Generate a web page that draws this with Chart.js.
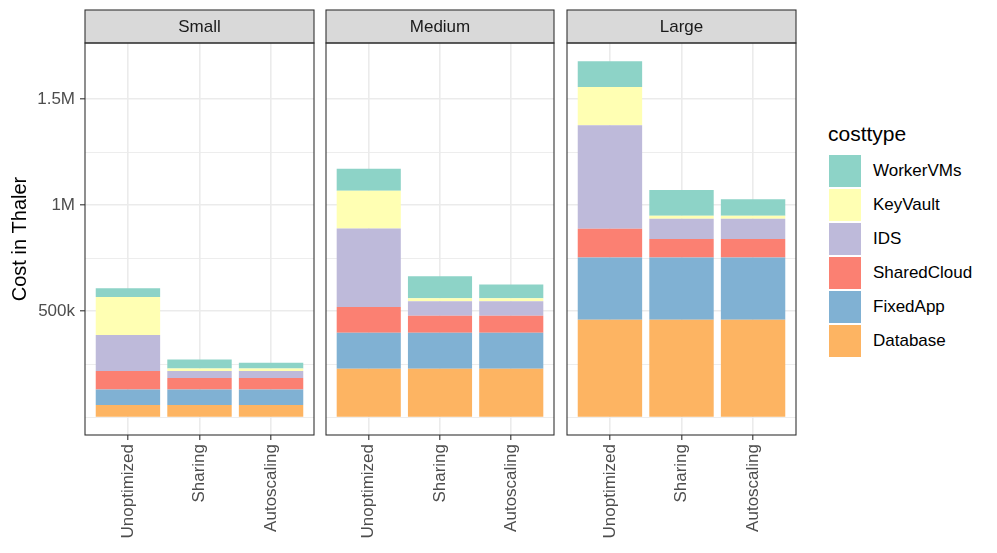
<!DOCTYPE html>
<html>
<head>
<meta charset="utf-8">
<script src="https://cdn.jsdelivr.net/npm/chart.js@4.4.1/dist/chart.umd.min.js"></script>
<style>
  body { margin: 0; background: #fff; font-family: "Liberation Sans", Arial, sans-serif; }
  #wrap { position: relative; width: 997px; height: 553px; overflow: hidden; }
  .panel { position: absolute; top: 0; height: 553px; }
  #legend { position: absolute; left: 828px; top: 123px; }
  .lg-title { font-size: 21px; line-height: 21px; color: #000; margin-bottom: 11px; }
  .lg-item { position: relative; height: 34px; }
  .lg-key { position: absolute; left: 1px; top: 0; width: 32px; height: 32px; }
  .lg-text { position: absolute; left: 45px; top: 0; line-height: 32px; font-size: 17px; color: #000; white-space: nowrap; }
</style>
</head>
<body>
<div id="wrap">
  <div class="panel" style="left:0px;width:315px"><canvas id="c0"></canvas></div>
  <div class="panel" style="left:324px;width:232px"><canvas id="c1"></canvas></div>
  <div class="panel" style="left:565px;width:233px"><canvas id="c2"></canvas></div>
  <div id="legend"></div>
</div>
<script>
"use strict";
{
  // facets and bars
  const sizes = ["Small", "Medium", "Large"];
  const strategies = ["Unoptimized", "Sharing", "Autoscaling"];

  // stack order bottom -> top
  const costTypes = ["Database", "FixedApp", "SharedCloud", "IDS", "KeyVault", "WorkerVMs"];
  const costColors = ["#FDB462", "#80B1D3", "#FB8072", "#BEBADA", "#FFFFB3", "#8DD3C7"];

  // values: Small (U,S,A), Medium (U,S,A), Large (U,S,A)
  const database    = [57000, 57000, 57000, 228000, 228000, 228000, 459000, 459000, 459000];
  const fixedApp    = [74000, 74000, 74000, 170000, 170000, 170000, 294000, 294000, 294000];
  const sharedCloud = [87000, 54000, 54000, 122000, 80000, 80000, 135000, 87000, 87000];
  const ids         = [170000, 33000, 33000, 370000, 69000, 69000, 488000, 96000, 96000];
  const keyVault    = [179000, 12000, 12000, 178000, 14000, 14000, 181000, 14000, 14000];
  const workerVMs   = [41000, 42000, 27000, 103000, 103000, 65000, 121000, 121000, 77000];
  const costValues = [database, fixedApp, sharedCloud, ids, keyVault, workerVMs];

  // y axis
  const yBreaks = [500000, 1000000, 1500000];
  const yLabels = ["500k", "1M", "1.5M"];
  const yMinorBreaks = [0, 250000, 750000, 1250000];
  const yMin = -84000;
  const yMax = 1764000;

  const GRID = "#EBEBEB";
  const DARK = "#333333";
  const FONT = "'Liberation Sans', Arial, sans-serif";

  // strip + panel border (ggplot facet look)
  const facetPlugin = {
    id: "facet",
    afterDraw(chart, args, opts) {
      const { ctx, chartArea: a } = chart;
      ctx.save();
      ctx.fillStyle = "#D9D9D9";
      ctx.fillRect(a.left, 10, a.right - a.left, a.top - 10);
      ctx.strokeStyle = DARK;
      ctx.lineWidth = 1.1;
      ctx.strokeRect(a.left, 10, a.right - a.left, a.top - 10);
      ctx.strokeRect(a.left, a.top, a.right - a.left, a.bottom - a.top);
      ctx.fillStyle = "#1A1A1A";
      ctx.font = "17px " + FONT;
      ctx.textAlign = "center";
      ctx.textBaseline = "middle";
      ctx.fillText(opts.label, (a.left + a.right) / 2, (10 + a.top) / 2 + 1);
      ctx.restore();
    },
  };

  function createPanel(id, p) {
    const first = p === 0;
    const datasets = costTypes.map((name, k) => {
      return {
        label: name,
        data: costValues[k].slice(p * 3, p * 3 + 3).map((v, j) => ({ x: j + 1, y: v })),
        backgroundColor: costColors[k],
        borderWidth: 0,
        barPercentage: 0.9,
        categoryPercentage: 1,
      };
    });

    new Chart(document.getElementById(id), {
      type: "bar",
      data: { datasets: datasets },
      plugins: [facetPlugin],
      options: {
        responsive: true,
        maintainAspectRatio: false,
        animation: false,
        layout: { padding: { top: 43, left: first ? 0 : 2, right: first ? 1 : 2, bottom: 0 } },
        scales: {
          x: {
            type: "linear",
            stacked: true,
            offset: false,
            min: 0.4,
            max: 3.6,
            afterBuildTicks: (scale) => {
              scale.ticks = strategies.map((s, i) => ({ value: i + 1 }));
            },
            afterFit: (scale) => {
              scale.height = 118;
            },
            grid: {
              offset: false,
              color: GRID,
              lineWidth: 1.6,
              tickColor: DARK,
              tickLength: 5,
              tickWidth: 1.1,
            },
            border: { display: false },
            ticks: {
              autoSkip: false,
              maxRotation: 90,
              minRotation: 90,
              padding: 4,
              color: "#4D4D4D",
              font: { family: FONT, size: 17 },
              callback: (value) => strategies[value - 1],
            },
          },
          y: {
            stacked: true,
            min: yMin,
            max: yMax,
            afterBuildTicks: (scale) => {
              scale.ticks = yMinorBreaks.concat(yBreaks).sort((a, b) => a - b).map((v) => ({ value: v }));
            },
            afterFit: (scale) => {
              scale.width = first ? 85 : 0;
            },
            grid: {
              color: GRID,
              lineWidth: (c) => (yBreaks.includes(c.tick.value) ? 1.6 : 0.9),
              drawTicks: first,
              tickLength: 5,
              tickWidth: 1.1,
              tickColor: (c) => (yBreaks.includes(c.tick.value) ? DARK : "rgba(0,0,0,0)"),
            },
            border: { display: false },
            title: {
              display: first,
              text: "Cost in Thaler",
              color: "#000",
              font: { family: FONT, size: 20 },
              padding: { top: 8, bottom: 0 },
            },
            ticks: {
              display: first,
              padding: 5,
              color: "#4D4D4D",
              font: { family: FONT, size: 17 },
              callback: (value) => {
                const i = yBreaks.indexOf(value);
                return i >= 0 ? yLabels[i] : "";
              },
            },
          },
        },
        plugins: {
          legend: { display: false },
          tooltip: { enabled: false },
          facet: { label: sizes[p] },
        },
      },
    });
  }

  sizes.forEach((s, p) => createPanel("c" + p, p));

  // legend (top entry = top of stack)
  const legend = document.getElementById("legend");
  let html = '<div class="lg-title">costtype</div>';
  for (let k = costTypes.length - 1; k >= 0; k--) {
    html +=
      '<div class="lg-item"><div class="lg-key" style="background:' + costColors[k] + '"></div>' +
      '<div class="lg-text">' + costTypes[k] + "</div></div>";
  }
  legend.innerHTML = html;
}
</script>
</body>
</html>
